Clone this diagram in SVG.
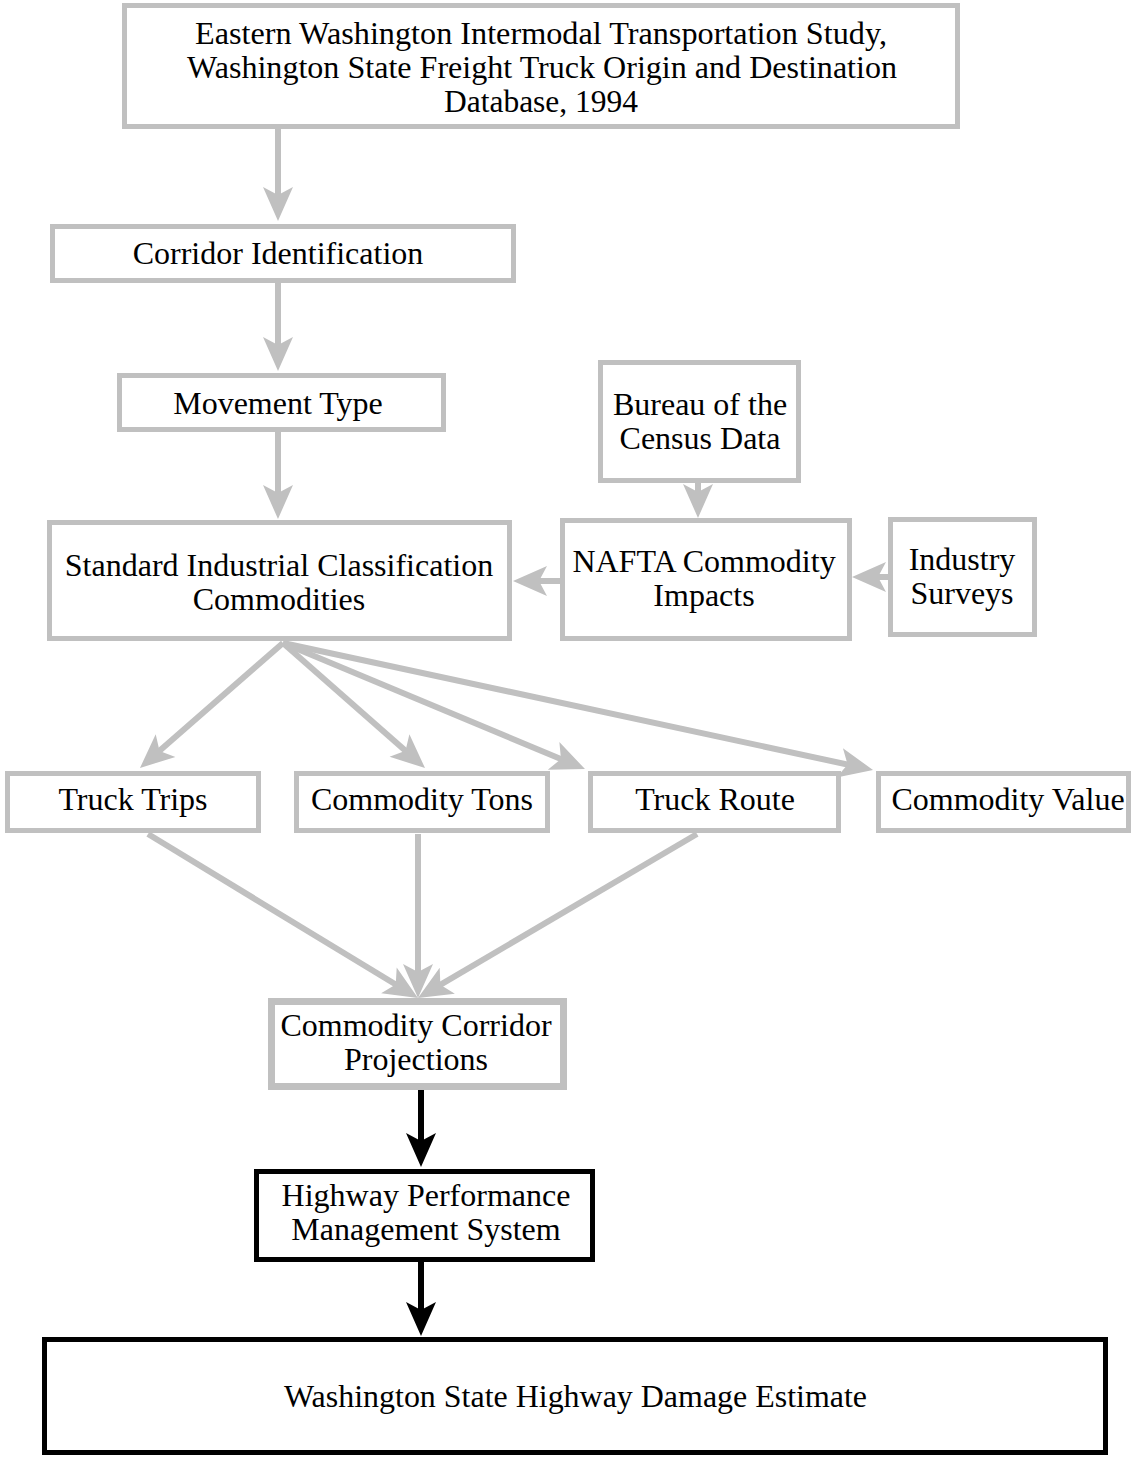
<svg xmlns="http://www.w3.org/2000/svg" width="1131" height="1458" viewBox="0 0 1131 1458">
<style>
.g{fill:#fff;stroke:#c0c0c0;stroke-width:5}
.b{fill:#fff;stroke:#000;stroke-width:5}
.t{font-family:"Liberation Serif","Times New Roman",serif;font-size:32px;fill:#000;text-anchor:middle}
.cg{stroke:#c0c0c0;stroke-width:6;fill:none;marker-end:url(#ag)}
.cb{stroke:#000;stroke-width:6;fill:none;marker-end:url(#ab)}
</style>
<defs>
<marker id="ag" markerUnits="userSpaceOnUse" viewBox="-36 -16 38 32" markerWidth="38" markerHeight="32" refX="-12" refY="0" orient="auto">
<path d="M0,0 L-34,-15 L-26,0 L-34,15 Z" fill="#c0c0c0"/>
</marker>
<marker id="ab" markerUnits="userSpaceOnUse" viewBox="-36 -16 38 32" markerWidth="38" markerHeight="32" refX="-12" refY="0" orient="auto">
<path d="M0,0 L-34,-15 L-26,0 L-34,15 Z" fill="#000"/>
</marker>
</defs>
<g id="connectors">
<line class="cg" x1="278" y1="129" x2="278" y2="209"/>
<line class="cg" x1="278" y1="283" x2="278" y2="359"/>
<line class="cg" x1="278" y1="432" x2="278" y2="507"/>
<line class="cg" x1="698" y1="483" x2="698" y2="506"/>
<line class="cg" x1="562" y1="581" x2="525" y2="581"/>
<line class="cg" x1="889" y1="577" x2="864" y2="577"/>
<line class="cg" x1="283" y1="643" x2="149" y2="760.1"/>
<line class="cg" x1="283" y1="643" x2="416" y2="760.1"/>
<line class="cg" x1="283" y1="643" x2="573.9" y2="764.4"/>
<line class="cg" x1="283" y1="643" x2="861.3" y2="767.5"/>
<line class="cg" x1="148" y1="834" x2="407.7" y2="991.8"/>
<line class="cg" x1="418" y1="834" x2="418" y2="986"/>
<line class="cg" x1="697" y1="834" x2="428.3" y2="991.9"/>
<line class="cb" x1="421" y1="1090" x2="421" y2="1155"/>
<line class="cb" x1="421" y1="1262" x2="421" y2="1324"/>
</g>
<g id="n-source">
<rect class="g" x="124.5" y="5.5" width="833" height="121"/>
<text class="t" x="541" y="44" textLength="692" lengthAdjust="spacingAndGlyphs">Eastern Washington Intermodal Transportation Study,</text>
<text class="t" x="542" y="78" textLength="710" lengthAdjust="spacingAndGlyphs">Washington State Freight Truck Origin and Destination</text>
<text class="t" x="541" y="112" textLength="194" lengthAdjust="spacingAndGlyphs">Database, 1994</text>
</g>
<g id="n-corridor">
<rect class="g" x="52.5" y="226.5" width="461" height="54"/>
<text class="t" x="278" y="264">Corridor Identification</text>
</g>
<g id="n-movement">
<rect class="g" x="119.5" y="375.5" width="324" height="54"/>
<text class="t" x="278" y="414">Movement Type</text>
</g>
<g id="n-census">
<rect class="g" x="600.5" y="362.5" width="198" height="118"/>
<text class="t" x="700" y="415">Bureau of the</text>
<text class="t" x="700" y="449">Census Data</text>
</g>
<g id="n-sic">
<rect class="g" x="49.5" y="522.5" width="460" height="116"/>
<text class="t" x="279" y="576">Standard Industrial Classification</text>
<text class="t" x="279" y="610">Commodities</text>
</g>
<g id="n-nafta">
<rect class="g" x="562.5" y="520.5" width="287" height="118"/>
<text class="t" x="704" y="572">NAFTA Commodity</text>
<text class="t" x="704" y="606">Impacts</text>
</g>
<g id="n-industry">
<rect class="g" x="890.5" y="519.5" width="144" height="115"/>
<text class="t" x="962" y="570">Industry</text>
<text class="t" x="962" y="604">Surveys</text>
</g>
<g id="n-trips">
<rect class="g" x="7.5" y="773.5" width="251" height="57"/>
<text class="t" x="133" y="810">Truck Trips</text>
</g>
<g id="n-tons">
<rect class="g" x="296.5" y="773.5" width="251" height="57"/>
<text class="t" x="422" y="810">Commodity Tons</text>
</g>
<g id="n-route">
<rect class="g" x="590.5" y="773.5" width="248" height="57"/>
<text class="t" x="715" y="810">Truck Route</text>
</g>
<g id="n-value">
<rect class="g" x="878.5" y="773.5" width="250" height="57"/>
<text class="t" x="1008" y="810">Commodity Value</text>
</g>
<g id="n-projections">
<rect class="g" x="271.5" y="1001.5" width="292" height="85" style="stroke-width:7"/>
<text class="t" x="416" y="1036">Commodity Corridor</text>
<text class="t" x="416" y="1070">Projections</text>
</g>
<g id="n-hpms">
<rect class="b" x="256.5" y="1171.5" width="336" height="88"/>
<text class="t" x="426" y="1206">Highway Performance</text>
<text class="t" x="426" y="1240">Management System</text>
</g>
<g id="n-damage">
<rect class="b" x="44.5" y="1339.5" width="1061" height="113"/>
<text class="t" x="575.5" y="1407" textLength="583" lengthAdjust="spacingAndGlyphs">Washington State Highway Damage Estimate</text>
</g>
</svg>
